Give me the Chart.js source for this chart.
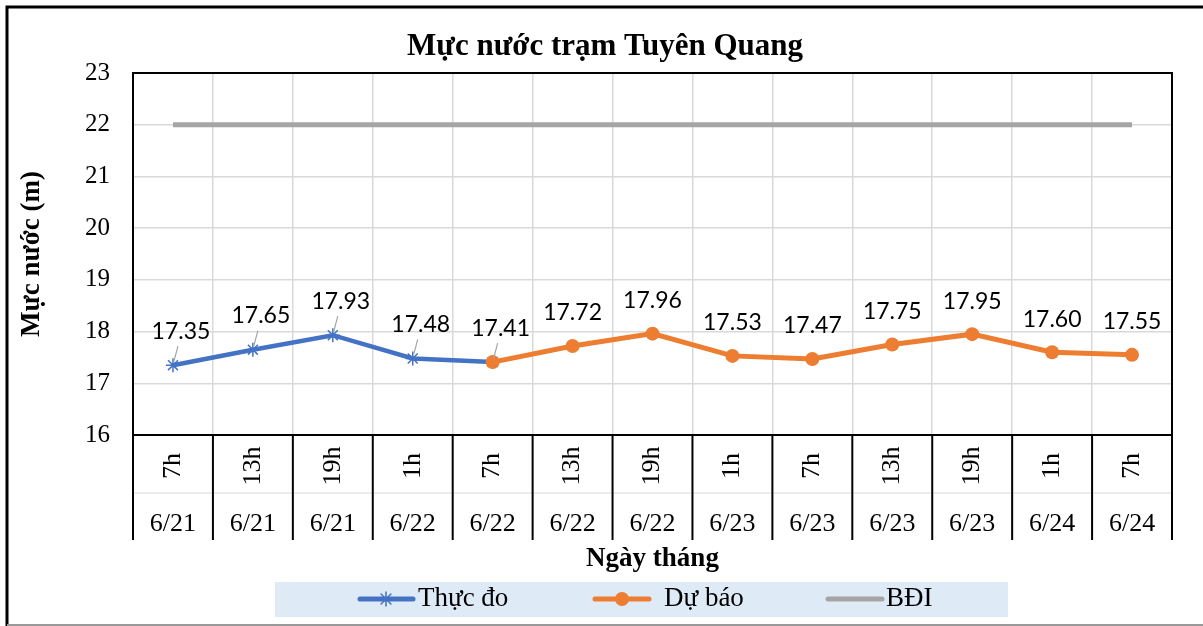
<!DOCTYPE html>
<html>
<head>
<meta charset="utf-8">
<script src="https://cdn.jsdelivr.net/npm/chart.js@4/dist/chart.umd.min.js"></script>
<style>
   body { margin: 0; background: #fff; }
   #wrap { width: 1203px; height: 626px; position: relative; }
</style>
</head>
<body>
<div id="wrap"><canvas id="myChart"></canvas></div>
<script>
"use strict";

// data
const hours = ["7h", "13h", "19h", "1h", "7h", "13h", "19h", "1h", "7h", "13h", "19h", "1h", "7h"];
const dates = ["6/21", "6/21", "6/21", "6/22", "6/22", "6/22", "6/22", "6/23", "6/23", "6/23", "6/23", "6/24", "6/24"];
const thucDo = [17.35, 17.65, 17.93, 17.48, 17.41, null, null, null, null, null, null, null, null];
const duBao = [null, null, null, null, 17.41, 17.72, 17.96, 17.53, 17.47, 17.75, 17.95, 17.60, 17.55];
const bdi = [22, 22, 22, 22, 22, 22, 22, 22, 22, 22, 22, 22, 22];
const yTicks = [16, 17, 18, 19, 20, 21, 22, 23];

const BLUE = "#4472C4";
const ORANGE = "#ED7D31";
const GRAY = "#A5A5A5";
const SERIF = "'Liberation Serif', 'Times New Roman', serif";

const drawStar = function (ctx, x, y, r, color) {
   ctx.save();
   ctx.strokeStyle = color;
   ctx.lineWidth = 1.5;
   ctx.beginPath();
   for (let k = 0; k < 4; k++) {
      const a = (k * Math.PI) / 4;
      ctx.moveTo(x - Math.cos(a) * r, y - Math.sin(a) * r);
      ctx.lineTo(x + Math.cos(a) * r, y + Math.sin(a) * r);
   }
   ctx.stroke();
   ctx.restore();
};

const extras = {
   id: "extras",
   beforeDraw(chart) {
      const ctx = chart.ctx;
      ctx.save();
      ctx.fillStyle = "#fff";
      ctx.fillRect(0, 0, chart.width, chart.height);
      // outer frame
      ctx.strokeStyle = "#000";
      ctx.lineWidth = 3;
      ctx.beginPath();
      ctx.moveTo(7, chart.height);
      ctx.lineTo(7, 7);
      ctx.lineTo(chart.width, 7);
      ctx.stroke();
      ctx.strokeStyle = "#999";
      ctx.lineWidth = 2;
      ctx.beginPath();
      ctx.moveTo(7, 625);
      ctx.lineTo(chart.width, 625);
      ctx.stroke();
      // title
      ctx.fillStyle = "#000";
      ctx.textAlign = "center";
      ctx.textBaseline = "middle";
      ctx.font = "bold 31px " + SERIF;
      ctx.fillText("Mực nước trạm Tuyên Quang", 605, 47);
      ctx.restore();
   },
   afterDraw(chart) {
      const ctx = chart.ctx;
      const xs = chart.scales.x;
      const area = chart.chartArea;
      const step = xs.getPixelForValue(1) - xs.getPixelForValue(0);
      ctx.save();

      // plot frame
      ctx.strokeStyle = "#000";
      ctx.lineWidth = 2;
      ctx.strokeRect(area.left, area.top, area.right - area.left, area.bottom - area.top);

      // two-level category axis
      ctx.strokeStyle = "#d9d9d9";
      ctx.lineWidth = 1;
      ctx.beginPath();
      ctx.moveTo(area.left, area.bottom + 58);
      ctx.lineTo(area.right, area.bottom + 58);
      ctx.stroke();
      ctx.strokeStyle = "#000";
      ctx.lineWidth = 2;
      for (let i = 0; i <= hours.length; i++) {
         const bx = xs.getPixelForValue(i) - step / 2;
         ctx.beginPath();
         ctx.moveTo(bx, area.bottom);
         ctx.lineTo(bx, area.bottom + 105);
         ctx.stroke();
      }
      ctx.fillStyle = "#000";
      ctx.textAlign = "center";
      ctx.textBaseline = "middle";
      ctx.font = "26px " + SERIF;
      hours.forEach((h, i) => {
         const cx = xs.getPixelForValue(i);
         ctx.save();
         ctx.translate(cx, area.bottom + 31);
         ctx.rotate(-Math.PI / 2);
         ctx.fillText(h, 0, 0);
         ctx.restore();
         ctx.fillText(dates[i], cx, area.bottom + 89);
      });

      // data labels
      ctx.font = "23px Lato, 'Open Sans', sans-serif";
      const m0 = chart.getDatasetMeta(0);
      m0.data.forEach((pt, i) => {
         if (thucDo[i] === null) return;
         ctx.strokeStyle = GRAY;
         ctx.lineWidth = 1.2;
         ctx.beginPath();
         ctx.moveTo(pt.x + 1, pt.y - 4);
         ctx.lineTo(pt.x + 5, pt.y - 19);
         ctx.stroke();
         ctx.fillStyle = "#000";
         ctx.fillText(thucDo[i].toFixed(2), pt.x + 8, pt.y - 34);
      });
      const m1 = chart.getDatasetMeta(1);
      m1.data.forEach((pt, i) => {
         if (duBao[i] === null || thucDo[i] !== null) return;
         ctx.fillStyle = "#000";
         ctx.fillText(duBao[i].toFixed(2), pt.x, pt.y - 33);
      });

      // legend
      ctx.fillStyle = "#DEEBF7";
      ctx.fillRect(275, 582, 733, 35);
      const ly = 599;
      ctx.lineCap = "round";
      ctx.lineWidth = 5;
      ctx.strokeStyle = BLUE;
      ctx.beginPath();
      ctx.moveTo(360, ly);
      ctx.lineTo(413, ly);
      ctx.stroke();
      drawStar(ctx, 386, ly, 7, BLUE);
      ctx.strokeStyle = ORANGE;
      ctx.beginPath();
      ctx.moveTo(595, ly);
      ctx.lineTo(649, ly);
      ctx.stroke();
      ctx.fillStyle = ORANGE;
      ctx.beginPath();
      ctx.arc(622, ly, 7, 0, Math.PI * 2);
      ctx.fill();
      ctx.strokeStyle = GRAY;
      ctx.beginPath();
      ctx.moveTo(828, ly);
      ctx.lineTo(882, ly);
      ctx.stroke();
      ctx.fillStyle = "#000";
      ctx.textAlign = "left";
      ctx.font = "27px " + SERIF;
      ctx.fillText("Thực đo", 418, ly);
      ctx.fillText("Dự báo", 664, ly);
      ctx.fillText("BĐI", 886, ly);
      ctx.restore();
   },
};

const ctx = document.getElementById("myChart").getContext("2d");
const myChart = new Chart(ctx, {
   type: "line",
   data: {
      labels: hours.map((h, i) => h + " " + dates[i]),
      datasets: [
         {
            label: "Thực đo",
            data: thucDo,
            borderColor: BLUE,
            backgroundColor: BLUE,
            borderWidth: 4.5,
            pointStyle: "star",
            pointRadius: 7,
            pointBorderWidth: 1.5,
            order: 1,
            spanGaps: false,
         },
         {
            label: "Dự báo",
            data: duBao,
            borderColor: ORANGE,
            backgroundColor: ORANGE,
            borderWidth: 5,
            pointStyle: "circle",
            pointRadius: 7,
            pointBorderWidth: 0,
            order: 0,
         },
         {
            label: "BĐI",
            data: bdi,
            borderColor: GRAY,
            backgroundColor: GRAY,
            borderWidth: 5,
            pointRadius: 0,
            order: 2,
         },
      ],
   },
   options: {
      responsive: true,
      maintainAspectRatio: false,
      animation: false,
      layout: { padding: { left: 8, right: 31, top: 73, bottom: 51 } },
      plugins: {
         legend: { display: false },
         tooltip: { enabled: false },
         title: { display: false },
      },
      scales: {
         x: {
            offset: true,
            grid: { offset: true, color: "#d9d9d9", lineWidth: 1.5, drawTicks: false },
            border: { display: true, color: "#000", width: 2 },
            ticks: { display: false },
            title: {
               display: true,
               text: "Ngày tháng",
               color: "#000",
               font: { family: SERIF, size: 27, weight: "bold", lineHeight: 1.2 },
               padding: { top: 0, bottom: 0 },
            },
            afterFit: (scale) => {
               scale.height = 140;
            },
         },
         y: {
            min: yTicks[0],
            max: yTicks[yTicks.length - 1],
            afterBuildTicks: (scale) => {
               scale.ticks = yTicks.map((v) => ({ value: v }));
            },
            grid: { color: "#d9d9d9", lineWidth: 1.5, drawTicks: false },
            border: { display: true, color: "#000", width: 2 },
            ticks: {
               color: "#000",
               padding: 23,
               font: { family: SERIF, size: 25 },
            },
            title: {
               display: true,
               text: "Mực nước (m)",
               color: "#000",
               font: { family: SERIF, size: 27, weight: "bold", lineHeight: 1.2 },
               padding: { top: 8, bottom: 0 },
            },
            afterFit: (scale) => {
               scale.width = 125;
            },
         },
      },
   },
   plugins: [extras],
});
</script>
</body>
</html>
